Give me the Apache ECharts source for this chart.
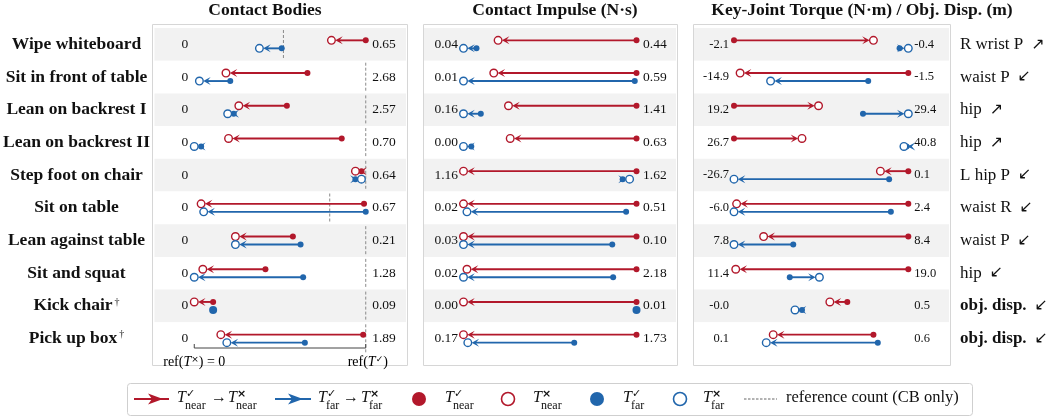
<!DOCTYPE html>
<html><head><meta charset="utf-8">
<script src="https://cdn.jsdelivr.net/npm/echarts@6/dist/echarts.min.js"></script>
<style>html,body{margin:0;padding:0;background:#fff}#c{width:1056px;height:419px}</style>
</head><body><div id="c"></div><script>
// ---------- data ----------
const categories = ['Wipe whiteboard','Sit in front of table','Lean on backrest I','Lean on backrest II','Step foot on chair','Sit on table','Lean against table','Sit and squat','Kick chair','Pick up box'];
const dagger = [false,false,false,false,false,false,false,false,true,true];

// Contact Bodies (positions normalised: 0 = ref(T×), 1 = axis max)
const cbNearOK   = [1.00, 0.66, 0.54, 0.86, 0.975, 0.99, 0.575, 0.415, 0.11, 0.985];
const cbNearFail = [0.80, 0.185, 0.26, 0.20, 0.94, 0.04, 0.24, 0.05, 0.00, 0.155];
const cbFarOK    = [0.51, 0.21, 0.23, 0.04, 0.94, 1.00, 0.62, 0.635, 0.11, 0.645];
const cbFarFail  = [0.38, 0.03, 0.195, 0.00, 0.975, 0.055, 0.24, 0.00, null, 0.19];
const cbRef      = [0.52, 1, 1, 1, 1, 0.79, 1, 1, 1, 1];
const cbLeft     = ['0','0','0','0','0','0','0','0','0','0'];
const cbRight    = ['0.65','2.68','2.57','0.70','0.64','0.67','0.21','1.28','0.09','1.89'];

// Contact Impulse
const ciNearOK   = [1, 1, 1, 1, 1, 1, 1, 1, 1, 1];
const ciNearFail = [0.20, 0.175, 0.26, 0.27, 0.00, 0.00, 0.00, 0.02, 0.00, 0.00];
const ciFarOK    = [0.075, 0.99, 0.10, 0.045, 0.92, 0.94, 0.86, 0.865, 1.00, 0.64];
const ciFarFail  = [0.00, 0.00, 0.00, 0.00, 0.96, 0.02, 0.00, 0.00, null, 0.025];
const ciLeft     = ['0.04','0.01','0.16','0.00','1.16','0.02','0.03','0.02','0.00','0.17'];
const ciRight    = ['0.44','0.59','1.41','0.63','1.62','0.51','0.10','2.18','0.01','1.73'];

// Key-Joint Torque / Obj. Disp.
const ktNearOK   = [0.00, 1.00, 0.00, 0.00, 1.00, 1.00, 1.00, 1.00, 0.65, 0.80];
const ktNearFail = [0.80, 0.035, 0.485, 0.39, 0.84, 0.015, 0.17, 0.01, 0.55, 0.225];
const ktFarOK    = [0.95, 0.77, 0.74, 0.99, 0.89, 0.90, 0.34, 0.32, 0.39, 0.825];
const ktFarFail  = [1.00, 0.21, 1.00, 0.975, 0.00, 0.00, 0.00, 0.49, 0.35, 0.185];
const ktLeft     = ['-2.1','-14.9','19.2','26.7','-26.7','-6.0','7.8','11.4','-0.0','0.1'];
const ktRight    = ['-0.4','-1.5','29.4','40.8','0.1','2.4','8.4','19.0','0.5','0.6'];
const joints     = ['R wrist P','waist P','hip','hip','L hip P','waist R','waist P','hip','obj. disp.','obj. disp.'];
const jointDir   = ['↗','↙','↗','↗','↙','↙','↙','↙','↙','↙'];
const jointBold  = [false,false,false,false,false,false,false,false,true,true];

const titles = ['Contact Bodies','Contact Impulse (N·s)','Key-Joint Torque (N·m) / Obj. Disp. (m)'];

// ---------- style / layout ----------
const RED = '#b2182b', BLUE = '#2166ac', INK = '#111';
const SERIF = '"Liberation Serif","Times New Roman","DejaVu Serif",serif';
const panels = [
  {zero:193, one:365.5, inL:153, inR:406, frame:[152,407], titleX:265, lOff:-9.5, lAlign:'center', rOff:6.5, fs:13.5,
   nearOK:cbNearOK, nearFail:cbNearFail, farOK:cbFarOK, farFail:cbFarFail, ref:cbRef, left:cbLeft, right:cbRight},
  {zero:463.5, one:636.5, inL:424, inR:676, frame:[423,677], titleX:555, lOff:-5.5, lAlign:'right', rOff:6.5, fs:13.5,
   nearOK:ciNearOK, nearFail:ciNearFail, farOK:ciFarOK, farFail:ciFarFail, ref:null, left:ciLeft, right:ciRight},
  {zero:734, one:908.3, inL:694, inR:949, frame:[693,950], titleX:862, lOff:-5, lAlign:'right', rOff:6, fs:12.5,
   nearOK:ktNearOK, nearFail:ktNearFail, farOK:ktFarOK, farFail:ktFarFail, ref:null, left:ktLeft, right:ktRight}
];
const GRID_TOP = 28, GRID_H = 327, FRAME_TOP = 24, FRAME_BOT = 365;

function pair(ch, api, i, ok, fail, y, color) {
  const xo = api.coord([ok, i])[0];
  if (fail == null) {
    ch.push({type:'circle', shape:{cx:xo, cy:y, r:4}, style:{fill:color}});
    return;
  }
  const xf = api.coord([fail, i])[0];
  const dir = xf >= xo ? 1 : -1;
  const R = 3.8, L = 7.5, W = 4;
  const tip = xf - dir * R;
  const back = tip - dir * L;
  ch.push({type:'line', shape:{x1:xo, y1:y, x2:tip - dir*3, y2:y}, style:{stroke:color, lineWidth:1.9}});
  ch.push({type:'polygon', shape:{points:[[tip,y],[back,y-W],[tip-dir*L*0.55,y],[back,y+W]]}, style:{fill:color}});
  ch.push({type:'circle', shape:{cx:xo, cy:y, r:3}, style:{fill:color}});
  ch.push({type:'circle', shape:{cx:xf, cy:y, r:R}, style:{fill:'#fff', stroke:color, lineWidth:1.4}});
}

function makeRender(p) {
  return function (params, api) {
    const i = api.value(1);
    const c0 = api.coord([0, i]);
    const c1 = api.coord([1, i]);
    const yc = c0[1];
    const band = api.size([0, 1])[1];
    const ch = [];
    if (p.ref) {
      const xr = api.coord([p.ref[i], i])[0];
      ch.push({type:'line', shape:{x1:xr, y1:yc-band/2+2, x2:xr, y2:yc+band/2-2},
               style:{stroke:'#8a8a8a', lineWidth:1, lineDash:[3,2]}});
    }
    pair(ch, api, i, p.nearOK[i], p.nearFail[i], yc - 4, RED);
    pair(ch, api, i, p.farOK[i], p.farFail[i], yc + 4, BLUE);
    ch.push({type:'text', style:{text:p.left[i], x:c0[0]+p.lOff, y:yc, align:p.lAlign, verticalAlign:'middle',
             font:p.fs+'px '+SERIF, fill:INK}});
    ch.push({type:'text', style:{text:p.right[i], x:c1[0]+p.rOff, y:yc, align:'left', verticalAlign:'middle',
             font:p.fs+'px '+SERIF, fill:INK}});
    return {type:'group', children:ch};
  };
}

function axisRender(params, api) {
  const x0 = api.coord([0, 9])[0], x1 = api.coord([1, 9])[0];
  const cs = params.coordSys;
  const y = cs.y + cs.height - 7;
  return {type:'group', children:[
    {type:'line', shape:{x1:x0, y1:y, x2:x1, y2:y}, style:{stroke:'#444', lineWidth:1}},
    {type:'line', shape:{x1:x0, y1:y, x2:x0, y2:y-4}, style:{stroke:'#444', lineWidth:1}},
    {type:'line', shape:{x1:x1, y1:y, x2:x1, y2:y-4}, style:{stroke:'#444', lineWidth:1}},
    {type:'text', style:{text:'{n|ref(}{t|T}{s|×}{n|) = 0}', x:x0, y:y+14, align:'center', verticalAlign:'middle',
      rich:{n:{fontSize:14, fontFamily:SERIF, color:INK}, t:{fontSize:14, fontStyle:'italic', fontFamily:SERIF, color:INK},
            s:{fontSize:9, fontFamily:'"DejaVu Sans"', color:INK, verticalAlign:'top'}}}},
    {type:'text', style:{text:'{n|ref(}{t|T}{s|✓}{n|)}', x:x1+2, y:y+14, align:'center', verticalAlign:'middle',
      rich:{n:{fontSize:14, fontFamily:SERIF, color:INK}, t:{fontSize:14, fontStyle:'italic', fontFamily:SERIF, color:INK},
            s:{fontSize:9, fontFamily:'"DejaVu Sans"', fontWeight:'bold', color:INK, verticalAlign:'top'}}}}
  ]};
}

// ---------- components ----------
const grid = [], xAxis = [], yAxis = [], series = [];
panels.forEach((p, k) => {
  const span = p.one - p.zero;
  grid.push({left:p.inL, width:p.inR - p.inL, top:GRID_TOP, height:GRID_H});
  xAxis.push({type:'value', gridIndex:k, show:false, min:(p.inL - p.zero)/span, max:(p.inR - p.zero)/span});
  yAxis.push({type:'category', gridIndex:k, data:categories, inverse:true,
    axisLine:{show:false}, axisTick:{show:false}, splitLine:{show:false},
    splitArea:{show:true, areaStyle:{color:['#f2f2f2','#ffffff']}},
    axisLabel: k === 0 ? {show:true, align:'center', margin:p.inL - 75,
      formatter:(v, idx) => dagger[idx] ? '{b|' + v + '}{d|†}' : '{b|' + v + '}',
      rich:{b:{fontSize:17.5, fontWeight:'bold', fontFamily:SERIF, color:INK},
            d:{fontSize:10, fontFamily:SERIF, color:INK, verticalAlign:'top', padding:[0,0,0,2]}}} : {show:false}});
});
// right-hand labels of the torque panel
yAxis.push({type:'category', gridIndex:2, position:'right', data:joints, inverse:true,
  axisLine:{show:false}, axisTick:{show:false}, splitLine:{show:false}, splitArea:{show:false},
  axisLabel:{show:true, margin:11,
    formatter:(v, idx) => (jointBold[idx] ? '{bb|' + v + '}' : '{n|' + v + '}') + '{a|' + jointDir[idx] + '}',
    rich:{n:{fontSize:17, fontFamily:SERIF, color:INK}, bb:{fontSize:17, fontWeight:'bold', fontFamily:SERIF, color:INK},
          a:{fontSize:16, fontFamily:'"DejaVu Sans"', color:INK, padding:[0,0,0,8]}}}});

panels.forEach((p, k) => {
  series.push({type:'custom', xAxisIndex:k, yAxisIndex:k, coordinateSystem:'cartesian2d', clip:false,
    renderItem:makeRender(p), data:categories.map((c, i) => [0, i]), encode:{x:0, y:1}, silent:true});
});
series.push({type:'custom', xAxisIndex:0, yAxisIndex:0, coordinateSystem:'cartesian2d', clip:false,
  renderItem:axisRender, data:[[0, 9]], encode:{x:0, y:1}, silent:true});

// ---------- graphic: frames, titles, legend ----------
const graphic = [];
panels.forEach((p, k) => {
  graphic.push({type:'rect', shape:{x:p.frame[0]+0.5, y:FRAME_TOP+0.5, width:p.frame[1]-p.frame[0], height:FRAME_BOT-FRAME_TOP},
    style:{fill:'none', stroke:'#d6d6d6', lineWidth:1}, z:-1});
  graphic.push({type:'text', style:{text:titles[k], x:p.titleX, y:10, align:'center', verticalAlign:'middle',
    font:'bold 17.5px '+SERIF, fill:INK}});
});

const LY = 399;
function tSym(x, sup, sub) {
  return [
    {type:'text', style:{text:'T', x:x, y:LY-1, align:'left', verticalAlign:'middle', font:'italic 16px '+SERIF, fill:INK}},
    {type:'text', style:{text:sup, x:x+9, y:LY-5, align:'left', verticalAlign:'middle', font:'bold 11px "DejaVu Sans"', fill:INK}},
    {type:'text', style:{text:sub, x:x+8, y:LY+6.5, align:'left', verticalAlign:'middle', font:'12px '+SERIF, fill:INK}}
  ];
}
function txt(t, x, fs) {
  return {type:'text', style:{text:t, x:x, y:LY-1, align:'left', verticalAlign:'middle', font:(fs||16)+'px '+SERIF, fill:INK}};
}
function legArrow(x1, x2, tip, color) {
  return [
    {type:'line', shape:{x1:x1, y1:LY, x2:x2, y2:LY}, style:{stroke:color, lineWidth:2}},
    {type:'polygon', shape:{points:[[tip,LY],[tip-15,LY-5.5],[tip-11,LY],[tip-15,LY+5.5]]}, style:{fill:color}}
  ];
}
graphic.push({type:'rect', shape:{x:127.5, y:383.5, width:845, height:32, r:3}, style:{fill:'#fff', stroke:'#cfcfcf', lineWidth:1}});
graphic.push(...legArrow(134, 169, 163, RED));
graphic.push(...tSym(177, '✓', 'near'), txt('→', 211), ...tSym(228, '×', 'near'));
graphic.push(...legArrow(275, 311, 303, BLUE));
graphic.push(...tSym(318, '✓', 'far'), txt('→', 343), ...tSym(361, '×', 'far'));
graphic.push({type:'circle', shape:{cx:419, cy:LY, r:7}, style:{fill:RED}});
graphic.push(...tSym(445, '✓', 'near'));
graphic.push({type:'circle', shape:{cx:508, cy:LY, r:6.5}, style:{fill:'#fff', stroke:RED, lineWidth:1.6}});
graphic.push(...tSym(533, '×', 'near'));
graphic.push({type:'circle', shape:{cx:597, cy:LY, r:7}, style:{fill:BLUE}});
graphic.push(...tSym(623, '✓', 'far'));
graphic.push({type:'circle', shape:{cx:680, cy:LY, r:6.5}, style:{fill:'#fff', stroke:BLUE, lineWidth:1.6}});
graphic.push(...tSym(703, '×', 'far'));
graphic.push({type:'line', shape:{x1:744, y1:LY, x2:777, y2:LY}, style:{stroke:'#666', lineWidth:1, lineDash:[2.5,1.5]}});
graphic.push(txt('reference count (CB only)', 786, 16.5));

const chart = echarts.init(document.getElementById('c'), null, {renderer:'canvas'});
chart.setOption({animation:false, backgroundColor:'#fff', grid, xAxis, yAxis, series, graphic});
</script></body></html>
